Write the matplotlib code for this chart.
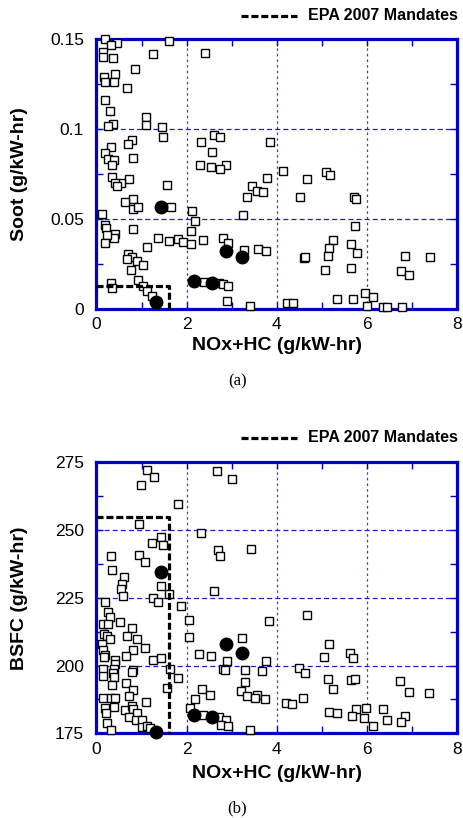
import matplotlib.pyplot as plt
from matplotlib.lines import Line2D

# open squares, soot panel
soot_nox = [0.19, 0.45, 0.32, 0.14, 0.14, 0.36, 1.61, 1.25, 2.40, 0.86, 0.41, 0.17, 0.18, 0.39, 0.67,
            0.19, 0.30, 1.10, 1.10, 0.36, 0.26, 1.45, 1.48, 0.78, 0.71, 0.32, 0.19, 0.26, 0.39, 0.34,
            0.82, 2.33, 2.61, 2.74, 3.86, 2.57, 2.30, 2.54, 2.87, 2.74,
            0.34, 0.73, 0.54, 0.41, 0.46, 1.57, 0.80, 0.63, 0.82, 0.93, 1.65, 0.13, 2.12, 2.19, 3.25,
            0.19, 0.21, 0.80, 2.09, 0.41, 0.39, 0.23, 0.19, 1.37, 1.60, 1.82, 1.92, 2.09, 2.36, 2.82,
            2.92, 3.28, 3.58, 3.76, 1.12, 0.71, 0.78, 0.67, 0.91, 1.03, 0.76, 0.93, 0.32, 0.34, 1.04,
            1.13, 1.23, 2.39, 2.71, 2.80, 2.92, 2.89, 3.41,
            3.78, 3.45, 3.56, 3.69, 3.35,
            4.15, 5.10, 5.19, 4.68, 4.52, 5.71, 5.76, 5.74, 5.26, 5.65, 5.17, 5.78, 4.60, 4.64, 5.15,
            6.86, 7.40, 5.08, 5.65, 6.77, 6.95, 4.23, 4.37, 5.34, 5.69, 5.97, 6.15, 6.00, 6.37, 6.46, 6.78]
soot_val = [0.150, 0.148, 0.1465, 0.143, 0.140, 0.1394, 0.149, 0.1415, 0.1424, 0.1335, 0.1307, 0.129, 0.126, 0.126, 0.1228,
            0.116, 0.110, 0.1067, 0.102, 0.1026, 0.1018, 0.1013, 0.0957, 0.0939, 0.0917, 0.090, 0.0868, 0.0835, 0.0828, 0.080,
            0.0839, 0.093, 0.0967, 0.0954, 0.0926, 0.0872, 0.0802, 0.079, 0.0802, 0.0776,
            0.0732, 0.0724, 0.0702, 0.0698, 0.0683, 0.0687, 0.0613, 0.0594, 0.0557, 0.0568, 0.0568, 0.0528, 0.0546, 0.049, 0.0522,
            0.0465, 0.0452, 0.0443, 0.0435, 0.0415, 0.0393, 0.0411, 0.0368, 0.0396, 0.038, 0.0387, 0.0374, 0.0363, 0.0385, 0.0396,
            0.0367, 0.0328, 0.0333, 0.0322, 0.0343, 0.0304, 0.0287, 0.0278, 0.0268, 0.0243, 0.0217, 0.0161, 0.0146, 0.0115, 0.0128,
            0.0102, 0.0072, 0.0148, 0.0146, 0.0137, 0.0130, 0.0043, 0.0018,
            0.0726, 0.0683, 0.0657, 0.0652, 0.0624,
            0.0767, 0.0763, 0.0743, 0.0724, 0.0624, 0.0624, 0.0611, 0.0463, 0.0383, 0.0363, 0.0337, 0.0313, 0.0282, 0.0287, 0.0294,
            0.0294, 0.029, 0.0217, 0.0226, 0.0213, 0.0189, 0.0035, 0.0035, 0.0056, 0.0056, 0.0091, 0.0068, 0.0018, 0.0013, 0.0013, 0.0013]

# open squares, BSFC panel
bsfc_nox = [1.12, 1.28, 0.98, 2.67, 3.00, 1.80, 0.94, 2.32, 1.43, 1.23, 1.47, 0.32, 0.94, 1.08, 2.69,
            2.74, 3.43, 0.34, 0.61, 0.57, 0.54, 1.43, 2.60,
            0.58, 1.26, 1.36, 1.62, 0.18, 1.87, 0.26, 0.31, 0.15, 0.26, 0.52, 0.78, 2.06, 3.83, 0.17,
            0.23, 0.30, 0.68, 0.89, 2.06, 3.23, 0.12, 0.14, 1.08, 0.80, 0.66, 0.19, 0.17, 0.41, 0.41,
            0.39, 0.36, 0.39, 1.25, 1.43, 2.28, 2.54, 2.89, 3.77, 0.15, 0.14, 0.82, 0.78, 1.63, 1.80,
            2.82, 2.86, 3.30, 3.67, 0.66, 0.34, 1.56, 0.80, 2.34, 3.30, 3.20, 2.51, 3.35, 3.56, 3.74,
            3.52, 0.72, 0.15, 0.32, 0.41, 1.10, 2.19, 0.19, 0.39, 0.21, 0.63, 0.78, 0.82, 0.89, 0.73,
            0.24, 0.32, 0.88, 1.00, 1.00, 1.12, 1.19, 2.08, 2.36, 2.71, 2.88, 2.76, 2.93, 3.40,
            4.67, 5.17, 5.06, 5.62, 5.69, 4.50, 4.63, 5.14, 5.65, 5.74, 6.74, 5.25, 6.94, 7.39, 4.58,
            4.21, 4.35, 5.17, 5.34, 5.77, 5.67, 5.98, 5.94, 6.14, 6.37, 6.45, 6.86, 6.76]
bsfc_val = [272.2, 269.6, 266.7, 271.9, 269.0, 259.7, 252.4, 249.1, 247.3, 245.1, 244.6, 240.3, 240.8, 238.1, 242.5,
            240.3, 243.2, 235.3, 232.6, 230.1, 228.3, 229.3, 227.5,
            225.8, 225.0, 223.4, 226.5, 223.6, 221.9, 219.7, 218.1, 215.4, 215.4, 216.0, 214.0, 216.9, 216.4, 211.8,
            210.9, 209.9, 210.8, 209.9, 210.5, 210.2, 208.1, 205.6, 206.6, 205.9, 203.5, 203.8, 203.2, 202.0, 200.7,
            198.9, 197.1, 195.8, 202.0, 202.8, 204.4, 203.4, 201.6, 201.6, 198.9, 196.2, 198.3, 197.6, 198.9, 195.4,
            198.9, 198.5, 198.5, 198.0, 193.4, 192.8, 191.9, 190.9, 191.5, 193.8, 190.6, 189.1, 188.7, 189.1, 187.5,
            187.9, 188.7, 187.9, 187.9, 187.9, 186.4, 187.5, 184.2, 184.6, 182.4, 183.6, 185.0, 183.8, 182.4, 181.1,
            178.9, 176.2, 179.9, 179.9, 177.4, 177.8, 176.8, 184.2, 181.7, 181.1, 179.9, 178.1, 177.8, 176.2,
            218.6, 208.1, 203.2, 204.8, 202.8, 199.0, 197.3, 195.2, 194.6, 195.0, 194.3, 191.3, 190.3, 189.7, 188.2,
            186.3, 185.8, 182.9, 182.6, 183.8, 181.5, 184.4, 180.5, 177.7, 183.8, 179.9, 181.4, 179.3]

# filled circles (same runs in both panels)
best_nox = [1.32, 1.43, 2.16, 2.56, 2.87, 3.24]
best_soot = [0.0041, 0.0568, 0.0156, 0.0143, 0.0322, 0.0290]
best_bsfc = [175.6, 234.4, 181.7, 180.9, 208.1, 204.8]

# EPA 2007 box corners
epa_nox = [0, 1.6, 1.6]
epa_soot = [0.013, 0.013, 0]
epa_bsfc = [255, 255, 175]

blue = '#0000cc'
plt.rcParams['font.family'] = ['Liberation Sans', 'DejaVu Sans']

fig = plt.figure(figsize=(4.63, 8.18), dpi=100)
ax1 = fig.add_axes([0.2084, 0.6222, 0.778, 0.3301])
ax2 = fig.add_axes([0.2084, 0.1035, 0.778, 0.3313])

def style_ax(ax, ylim, yticks, yminor, ylabels, ylab, xlab_y):
    ax.set_xlim(0, 8)
    ax.set_ylim(*ylim)
    ax.set_xticks([0, 2, 4, 6, 8])
    ax.set_xticks([1, 3, 5, 7], minor=True)
    ax.set_yticks(yticks)
    ax.set_yticklabels(ylabels)
    ax.set_yticks(yminor, minor=True)
    for s in ax.spines.values():
        s.set_color(blue)
        s.set_linewidth(2.3)
    ax.tick_params(which='both', direction='in', color=blue, top=True, right=True,
                   labelsize=12.5, width=1, length=5)
    ax.tick_params(axis='y', pad=9)
    ax.tick_params(axis='x', pad=6)
    for v in [2, 4, 6]:
        ax.axvline(v, color='#3a3ae0', lw=0.9, ls=(0, (2, 2.5)), zorder=1)
    for v in yticks[1:-1]:
        ax.axhline(v, color='#1a1ad8', lw=0.9, ls=(0, (4, 2.5)), zorder=1)
    ax.set_xlabel('NOx+HC (g/kW-hr)', fontsize=14, fontweight='bold')
    ax.set_ylabel(ylab, fontsize=14, fontweight='bold')
    ax.xaxis.set_label_coords(0.5, xlab_y)
    ax.yaxis.set_label_coords(-0.19, 0.5)

style_ax(ax1, (0, 0.15), [0, 0.05, 0.1, 0.15], [0.025, 0.075, 0.125],
         ['0', '0.05', '0.1', '0.15'], 'Soot (g/kW-hr)', -0.105)
style_ax(ax2, (175, 275), [175, 200, 225, 250, 275], [187.5, 212.5, 237.5, 262.5],
         ['175', '200', '225', '250', '275'], 'BSFC (g/kW-hr)', -0.115)

for ax, hx, hy, by, ey in [(ax1, soot_nox, soot_val, best_soot, epa_soot),
                           (ax2, bsfc_nox, bsfc_val, best_bsfc, epa_bsfc)]:
    ax.plot(hx, hy, 's', ms=6.4, mfc='white', mec='black', mew=1.0, clip_on=False, zorder=3)
    ax.plot(best_nox, by, 'o', ms=9, color='black', clip_on=False, zorder=4)
    ax.plot(epa_nox, ey, color='black', lw=2.3, ls=(0, (2.2, 0.9)), clip_on=False, zorder=5)

# legends drawn in figure coords
for ly in [0.981, 0.4649]:
    fig.add_artist(Line2D([0.5205, 0.6415], [ly, ly], color='black', lw=2.3, ls=(0, (2.2, 0.9))))
    fig.text(0.665, ly, 'EPA 2007 Mandates', fontsize=11.5, fontweight='bold', va='center', ha='left')

fig.text(0.513, 0.534, '(a)', fontsize=12, family=['Liberation Serif'], ha='center', va='center')
fig.text(0.513, 0.0122, '(b)', fontsize=12, family=['Liberation Serif'], ha='center', va='center')

fig.savefig('out.png', dpi=100)
